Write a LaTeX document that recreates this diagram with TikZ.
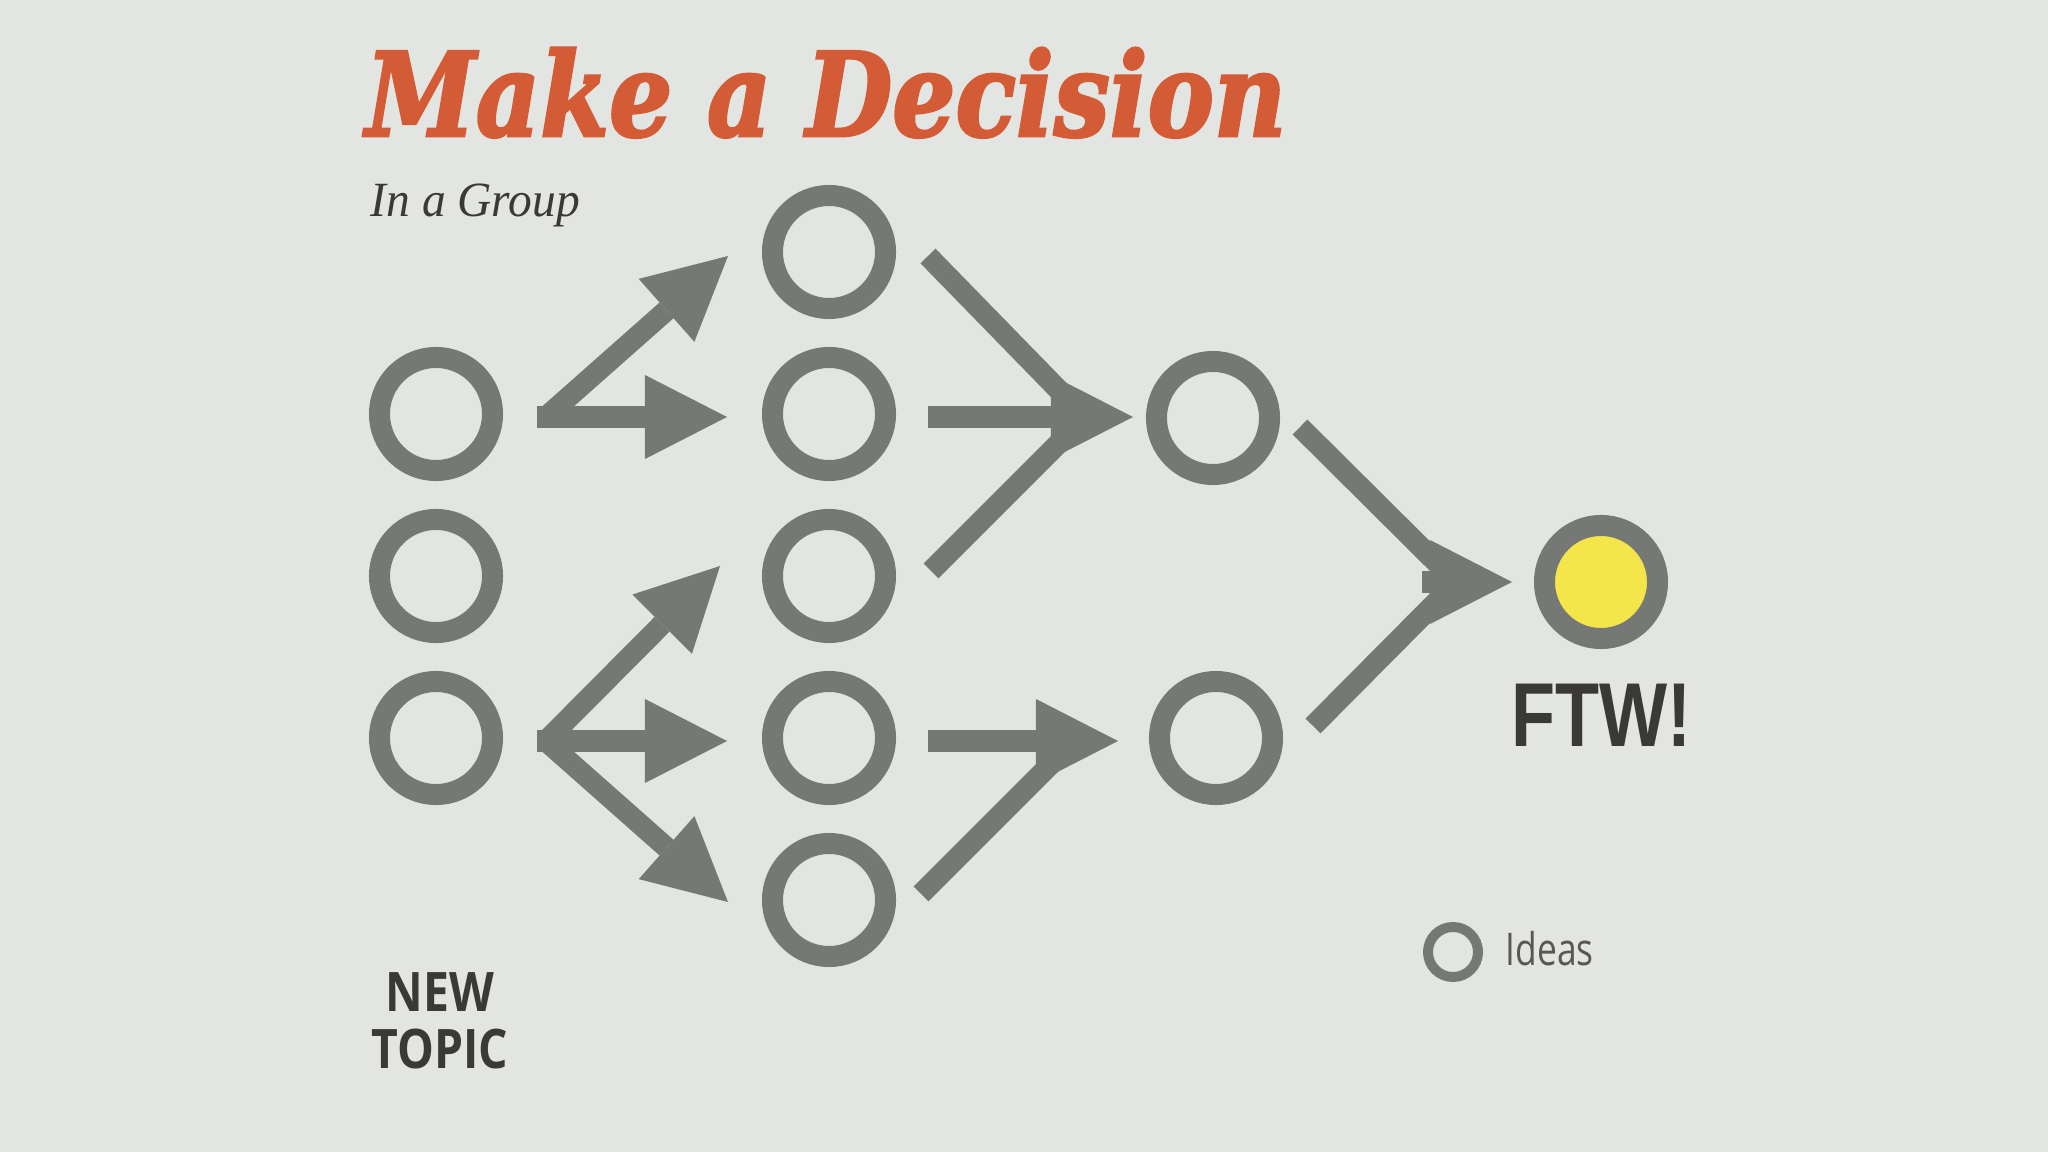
\documentclass[tikz,border=0pt]{standalone}
\usepackage{fontspec}
\usepackage{graphicx}
\setmainfont{Open Sans}
\newfontfamily\titlefont{DejaVu Serif}[BoldItalicFeatures={FakeBold=2.5}]
\newfontfamily\subfont{Liberation Serif}
\newfontfamily\ftwfont{Liberation Sans}
\usetikzlibrary{arrows.meta}
\definecolor{fondo}{HTML}{E3E5E2}
\definecolor{gris}{HTML}{767875}
\definecolor{titulo}{HTML}{D35B35}
\definecolor{tinta}{HTML}{3B3938}
\definecolor{amarillo}{HTML}{F4E54B}
\tikzset{
  anillo/.style={circle,draw=gris,line width=0.21cm,minimum size=1.13cm,inner sep=0pt},
  arr/.style={line width=0.21cm,draw=gris,-{Triangle[length=0.82cm,width=0.84cm,line width=0pt]}},
  tramo/.style={line width=0.21cm,draw=gris},
  texto/.style={inner sep=0pt,text=tinta}
}

\begin{document}
\begin{tikzpicture}[x=0.01cm,y=-0.01cm]
	\fill[fondo] (0,0) rectangle (2048,1152);
	\useasboundingbox (0,0) rectangle (2048,1152);

	\node[texto,anchor=base west,text=titulo] (title) at (365,136) {\resizebox{9.2cm}{\height}{\titlefont\bfseries\itshape\fontsize{33}{33}\selectfont Make a Decision}};
	\node[texto,anchor=base west] (group) at (370,217) {\resizebox{2.09cm}{\height}{\subfont\itshape\fontsize{14}{14}\selectfont In a Group}};

	% ideas
	\foreach \Num/\Alto in {1/414,2/576,3/738} {
		\node[anillo] (left\Num) at (436,\Alto) {};
	}
	\foreach \Num/\Alto in {1/252,2/414,3/576,4/738,5/900} {
		\node[anillo] (mid\Num) at (829,\Alto) {};
	}
	\node[anillo] (right1) at (1213,418) {};
	\node[anillo] (right2) at (1216,738) {};
	\node[anillo,fill=amarillo] (win) at (1601,582) {};

	% splitting
	\coordinate (ja) at (537,417);
	\coordinate (jad) at (546,417);
	\coordinate (jb) at (537,741);
	\coordinate (jbd) at (546,741);
	\coordinate (ta1) at (728,256);
	\coordinate (ta2) at (727,417);
	\coordinate (tb1) at (720,566);
	\coordinate (tb2) at (727,741);
	\coordinate (tb3) at (728,902);
	\foreach \Desde/\Hasta in {ja/ta2,jad/ta1,jb/tb2,jbd/tb1,jbd/tb3} {
		\draw[arr] (\Desde) -- (\Hasta);
	}

	% merging
	\coordinate (c1) at (928,256);
	\coordinate (c2) at (928,417);
	\coordinate (c3) at (931,571);
	\coordinate (cm) at (1085,417);
	\coordinate (tc) at (1133,417);
	\coordinate (d1) at (928,741);
	\coordinate (d2) at (921,894);
	\coordinate (dm) at (1074,741);
	\coordinate (td) at (1118,741);
	\coordinate (e1) at (1300,427);
	\coordinate (e2) at (1313,726);
	\coordinate (es) at (1422,582);
	\coordinate (em) at (1456,582);
	\coordinate (te) at (1512,582);
	\foreach \Desde/\Hasta in {c1/cm,c3/cm,d2/dm,e1/em,e2/em} {
		\draw[tramo] (\Desde) -- (\Hasta);
	}
	\draw[arr] (c2) -- (tc);
	\draw[arr] (d1) -- (td);
	\draw[arr] (es) -- (te);

	\node[texto,anchor=base west] (ftw) at (1511,746) {\resizebox{1.8cm}{\height}{\ftwfont\bfseries\fontsize{25.8}{26}\selectfont FTW!}};
	\node[texto,anchor=north,align=center,font=\bfseries\fontsize{15.5}{16.2}\selectfont] (topic) at (440,972) {\scalebox{0.85}[1]{NEW}\\\scalebox{0.85}[1]{TOPIC}};

	% legend
	\node[anillo,line width=0.10cm,minimum size=0.50cm] (muestra) at (1453,952) {};
	\node[texto,anchor=base west,text=tinta!85] (ideas) at (1505,965) {\resizebox{0.88cm}{\height}{\fontsize{12.8}{13}\selectfont Ideas}};
\end{tikzpicture}
\end{document}
